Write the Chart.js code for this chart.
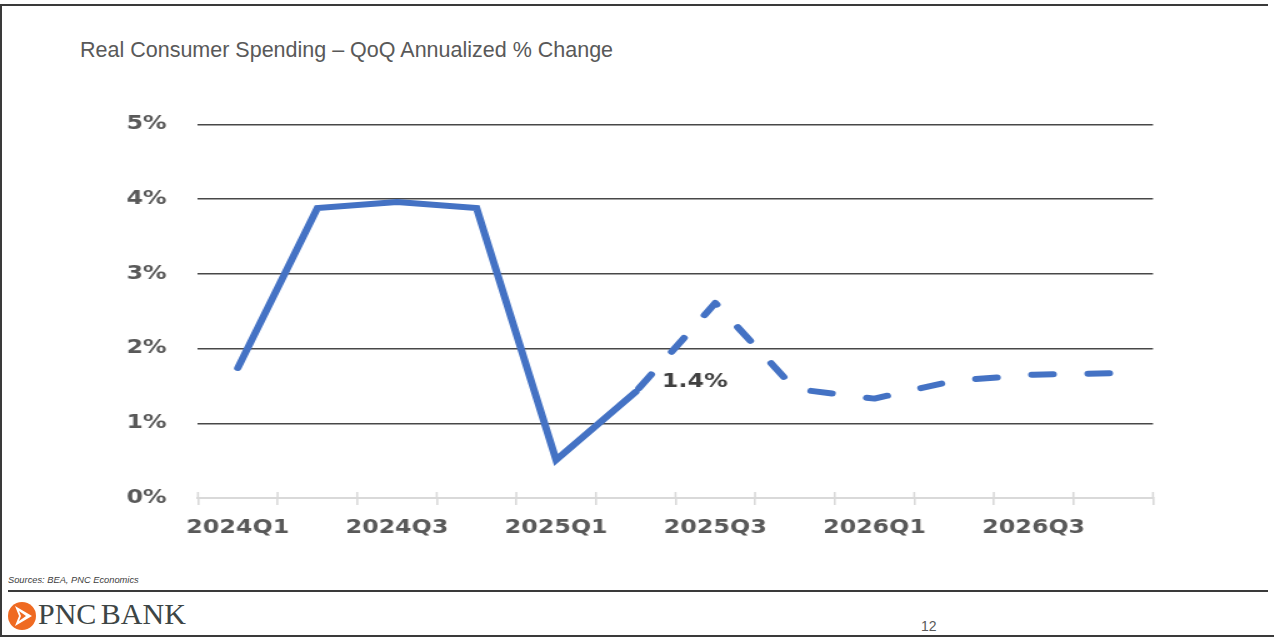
<!DOCTYPE html>
<html>
<head>
<meta charset="utf-8">
<script src="https://cdn.jsdelivr.net/npm/chart.js@4.4.1/dist/chart.umd.min.js"></script>
<style>
  html, body { margin:0; padding:0; background:#fff; }
  body { width:1274px; height:637px; position:relative; overflow:hidden; font-family:"Liberation Sans", Arial, sans-serif; }
  .hline { position:absolute; height:2px; background:#3a3a3a; }
  .vline { position:absolute; width:2px; background:#3a3a3a; }
  #title { position:absolute; left:80px; top:38px; font-size:21.5px; color:#595959; white-space:nowrap; }
  #sources { position:absolute; left:8px; top:575px; font-size:9.3px; font-style:italic; color:#404040; white-space:nowrap; }
  #brand { position:absolute; left:38px; top:597px; font-family:"Liberation Serif", "Times New Roman", serif; font-size:30px; color:#3d4545; white-space:nowrap; word-spacing:-3px; }
  #page { position:absolute; left:921px; top:618px; font-size:14px; color:#595959; }
  #wrap { position:absolute; left:100px; top:88px; width:880px; height:472px; transform:scaleX(1.25); transform-origin:0 0; }
  #logo { position:absolute; left:7px; top:601px; }
</style>
</head>
<body>
<div class="hline" style="left:0;top:4px;width:1268px;"></div>
<div class="vline" style="left:0;top:4px;height:633px;"></div>
<div class="hline" style="left:8px;top:590px;width:1260px;"></div>
<div class="hline" style="left:0;top:635px;width:1274px;"></div>
<div id="title">Real Consumer Spending – QoQ Annualized % Change</div>
<div id="sources">Sources: BEA, PNC Economics</div>
<svg id="logo" width="30" height="32" viewBox="0 0 30 32">
  <circle cx="15" cy="15" r="14" fill="#EF6A22"/>
  <polygon points="8,5 25,15 8,25 12,15" fill="#ffffff"/>
  <polygon points="12,10 19,15 12,20 14,15" fill="#EF6A22"/>
</svg>
<div id="brand">PNC BANK</div>
<div id="page">12</div>
<div id="wrap"><canvas id="c" width="880" height="472" style="width:880px;height:472px;"></canvas></div>
<script>
const categories = ["2024Q1","2024Q2","2024Q3","2024Q4","2025Q1","2025Q2","2025Q3","2025Q4","2026Q1","2026Q2","2026Q3","2026Q4"];
const actualValues = [1.74, 3.88, 3.96, 3.88, 0.51, 1.42, null, null, null, null, null, null];
const forecastValues = [null, null, null, null, null, 1.42, 2.61, 1.46, 1.33, 1.57, 1.65, 1.67];
const yTicks = [0, 1, 2, 3, 4, 5];
const calloutIndex = 5;
const calloutText = "1.4%";

const tickFont = { family: "DejaVu Sans", weight: "bold", size: 19 };

const tickTops = {
  id: 'tickTops',
  beforeDatasetsDraw(chart) {
    const x = chart.scales.x, ctx = chart.ctx;
    const y0 = chart.chartArea.bottom;
    ctx.save();
    ctx.strokeStyle = '#d9d9d9';
    ctx.lineWidth = 1.6;
    for (let i = 0; i <= categories.length; i++) {
      const px = x.getPixelForValue(i - 0.5);
      ctx.beginPath();
      ctx.moveTo(px, y0 - 6);
      ctx.lineTo(px, y0);
      ctx.stroke();
    }
    ctx.restore();
  }
};

const callout = {
  id: 'callout',
  afterDatasetsDraw(chart) {
    const pt = chart.getDatasetMeta(0).data[calloutIndex];
    const ctx = chart.ctx;
    ctx.save();
    ctx.font = "bold 19px 'DejaVu Sans'";
    ctx.fillStyle = '#404040';
    ctx.textAlign = 'left';
    ctx.textBaseline = 'middle';
    ctx.fillText(calloutText, pt.x + 21, pt.y - 10);
    ctx.restore();
  }
};

new Chart(document.getElementById('c'), {
  type: 'line',
  data: {
    labels: categories,
    datasets: [
      { data: actualValues, borderColor: '#4472C4', borderWidth: 6, pointRadius: 0, tension: 0,
        borderCapStyle: 'round', borderJoinStyle: 'miter', spanGaps: false },
      { data: forecastValues, borderColor: '#4472C4', borderWidth: 6, pointRadius: 0, tension: 0,
        borderDash: [17, 28], borderDashOffset: -4.4, borderCapStyle: 'round', borderJoinStyle: 'round', spanGaps: false }
    ]
  },
  options: {
    responsive: false,
    animation: false,
    devicePixelRatio: 1,
    layout: { padding: { top: 12.5, right: 37.6, left: 0, bottom: 0 } },
    plugins: { legend: { display: false }, tooltip: { enabled: false } },
    scales: {
      x: {
        type: 'category',
        offset: true,
        grid: { display: true, drawOnChartArea: false, drawTicks: true, tickLength: 7, color: '#d9d9d9', lineWidth: 1.6, offset: true },
        border: { display: true, color: '#d9d9d9', width: 2 },
        ticks: {
          autoSkip: false, maxRotation: 0, minRotation: 0, padding: 12,
          color: '#595959', font: tickFont,
          callback: function(v, i) { return i % 2 === 0 ? categories[i] : ''; }
        },
        afterFit(s) { s.height = 62; }
      },
      y: {
        min: 0, max: 5,
        afterBuildTicks(s) { s.ticks = yTicks.map(v => ({ value: v })); },
        grid: { drawTicks: false, color: c => (c.tick && c.tick.value === 0) ? 'rgba(0,0,0,0)' : '#484848', lineWidth: 1.4 },
        border: { display: false },
        ticks: { padding: 25, color: '#595959', font: tickFont, callback: v => v + '%' },
        afterFit(s) { s.width = 78.4; }
      }
    }
  },
  plugins: [tickTops, callout]
});
</script>
</body>
</html>
